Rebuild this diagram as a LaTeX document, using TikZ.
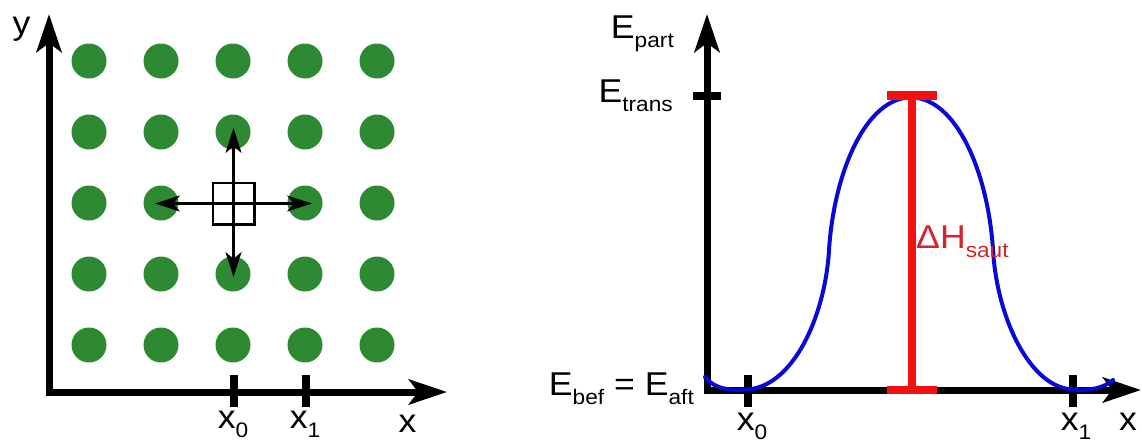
\documentclass[tikz,border=0pt]{standalone}
\usepackage{fontspec}
\setmainfont{Liberation Sans}[FakeStretch=1.08]
\usetikzlibrary{arrows.meta}
\definecolor{dotgreen}{RGB}{45,138,50}
\definecolor{curveblue}{RGB}{8,8,215}
\definecolor{barred}{RGB}{245,15,15}
\definecolor{textred}{RGB}{215,35,45}
\newcommand{\sbs}[1]{\raisebox{-9pt}{\fontsize{21pt}{21pt}\selectfont #1}}
\begin{document}
\begin{tikzpicture}[x=1pt,y=-1pt,
  lbl/.style={inner sep=0pt, font=\fontsize{33pt}{36pt}\selectfont},
  axis/.style={line width=7pt, {Stealth[length=38pt,width=25pt,inset=9pt]}-{Stealth[length=38pt,width=25pt,inset=9pt]}, line join=miter},
  tickmark/.style={line width=7.5pt},
  dot/.style={circle, fill=dotgreen, minimum size=35pt, inner sep=0pt},
  movearrow/.style={line width=2.5pt, -{Stealth[length=25pt,width=16pt,inset=7pt]}},
  redbar/.style={barred, line width=8.5pt}
]
\useasboundingbox (0,0) rectangle (1142,442);
% ---------- left panel ----------
\foreach \i in {0,...,4}{
  \foreach \j in {0,...,4}{
    \ifnum\i=2 \ifnum\j=2 \else
      \node[dot] (d\i\j) at ({89+72*\i},{61+71*\j}) {};
    \fi\else
      \node[dot] (d\i\j) at ({89+72*\i},{61+71*\j}) {};
    \fi
  }
}
\coordinate (Ly) at (49,14);
\coordinate (Lo) at (49,392);
\coordinate (Lx) at (447,392);
\draw[axis] (Ly) -- (Lo) -- (Lx);
\coordinate (LtA) at (234,375); \coordinate (LtB) at (234,407);
\coordinate (LtC) at (306,375); \coordinate (LtD) at (306,407);
\draw[tickmark] (LtA) -- (LtB);
\draw[tickmark] (LtC) -- (LtD);
\node[lbl, anchor=base] (ly) at (21.5,34) {y};
\node[lbl, anchor=base] (lx0) at (233,428) {x\sbs{0}};
\node[lbl, anchor=base] (lx1) at (305,428) {x\sbs{1}};
\node[lbl, anchor=base] (lx) at (407.5,432) {x};
\node[draw, line width=2.5pt, minimum size=41.5pt, inner sep=0pt] (sq) at (233.5,203.5) {};
\coordinate (c) at (233.5,203.5);
\coordinate (aL) at (155,203.5);
\coordinate (aR) at (312,203.5);
\coordinate (aU) at (233.5,128);
\coordinate (aD) at (233.5,277);
\draw[movearrow] (c) -- (aL);
\draw[movearrow] (c) -- (aR);
\draw[movearrow] (c) -- (aU);
\draw[movearrow] (c) -- (aD);
% ---------- right panel ----------
\coordinate (Ry) at (707,14);
\coordinate (Ro) at (707,390);
\coordinate (Rx) at (1141,390);
\draw[axis] (Ry) -- (Ro) -- (Rx);
\coordinate (EtA) at (693,95.5); \coordinate (EtB) at (721,95.5);
\draw[line width=8pt] (EtA) -- (EtB);
\coordinate (RtA) at (748,375); \coordinate (RtB) at (748,407);
\coordinate (RtC) at (1073,375); \coordinate (RtD) at (1073,407);
\draw[tickmark] (RtA) -- (RtB);
\draw[tickmark] (RtC) -- (RtD);
\coordinate (cs) at (705,377);
\coordinate (cm0) at (746,389.5);
\coordinate (ci0) at (829,250);
\coordinate (cp) at (911,97.5);
\coordinate (ci1) at (993,250);
\coordinate (cm1) at (1073,389.5);
\coordinate (ce) at (1113,380);
\draw[curveblue, line width=4pt, line cap=round]
  (cs) .. controls (715,390) and (732,390.5) .. (cm0)
       .. controls (792,388) and (825,318) .. (ci0)
       .. controls (834,172) and (866,97.5) .. (cp)
       .. controls (956,97.5) and (988,172) .. (ci1)
       .. controls (997,318) and (1030,388) .. (cm1)
       .. controls (1090,391) and (1104,388) .. (ce);
\coordinate (Ttl) at (887,95.5); \coordinate (Ttr) at (937,95.5); \coordinate (Tt) at (912,95.5);
\coordinate (Tbl) at (887,390); \coordinate (Tbr) at (937,390); \coordinate (Tb) at (912,390);
\draw[redbar] (Ttl) -- (Ttr);
\draw[redbar] (Tbl) -- (Tbr);
\draw[redbar] (Tt) -- (Tb);
\node[lbl, anchor=base east] (epart) at (674,38) {E\sbs{part}};
\node[lbl, anchor=base east] (etrans) at (673,102) {E\sbs{trans}};
\node[lbl, anchor=base east] (ebef) at (694,395) {E\sbs{bef} = E\sbs{aft}};
\node[lbl, anchor=base] (rx0) at (752,430) {x\sbs{0}};
\node[lbl, anchor=base] (rx1) at (1076,430) {x\sbs{1}};
\node[lbl, anchor=base] (rx) at (1128,430) {x};
\node[lbl, anchor=base west, text=textred] (dh) at (916,248) {ΔH\sbs{saut}};
\end{tikzpicture}
\end{document}
